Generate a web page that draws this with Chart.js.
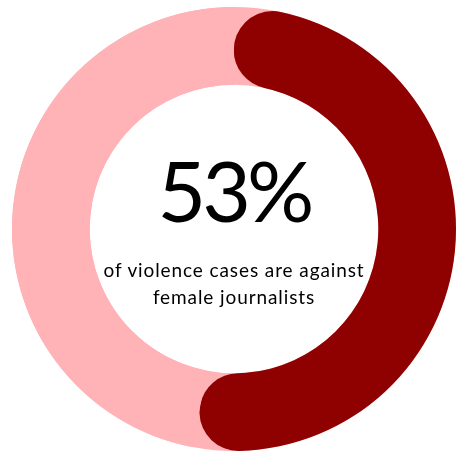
<!DOCTYPE html>
<html lang="en">
  <head>
    <meta charset="UTF-8" />
    <meta name="viewport" content="width=device-width, initial-scale=1.0" />
    <script src="https://cdn.jsdelivr.net/npm/chart.js@4.4.0/dist/chart.umd.min.js"></script>
    <title>violence cases against female journalists</title>
    <style>
      body {
        margin: 0;
        padding: 0;
        background: #fff;
      }

      .container {
        position: relative;
        width: 458px;
        height: 457px;
      }

      .big {
        position: absolute;
        left: 34px;
        top: 140px;
        width: 400px;
        text-align: center;
        font-family: Lato, sans-serif;
        font-weight: 400;
        font-size: 84px;
        letter-spacing: -4px;
        line-height: 100px;
        color: #000;
      }

      .sub {
        position: absolute;
        left: 34px;
        top: 256px;
        width: 400px;
        text-align: center;
        font-family: Lato, sans-serif;
        font-size: 19px;
        letter-spacing: 0.9px;
        line-height: 27px;
        color: #000;
      }
    </style>
  </head>
  <body>
    <div class="container">
      <canvas id="donut" width="458" height="457"></canvas>
      <div class="big">53%</div>
      <div class="sub">of violence cases are against<br />female journalists</div>
    </div>
    <script>
      const categories = ['Against female journalists', 'Other cases']
      const values = [53, 47]
      const colors = ['#8f0000', '#ffb3b6']

      // pink ring drawn under the arcs so the rounded ends sit on it
      const ringUnder = {
        id: 'ringUnder',
        beforeDatasetsDraw(chart) {
          const arc = chart.getDatasetMeta(0).data[0]
          if (!arc) return
          const ctx = chart.ctx
          ctx.save()
          ctx.beginPath()
          ctx.arc(arc.x, arc.y, arc.outerRadius, 0, Math.PI * 2)
          ctx.arc(arc.x, arc.y, arc.innerRadius, 0, Math.PI * 2, true)
          ctx.fillStyle = colors[1]
          ctx.fill()
          ctx.restore()
        },
      }

      new Chart(document.getElementById('donut').getContext('2d'), {
        type: 'doughnut',
        data: {
          labels: categories,
          datasets: [
            {
              data: values,
              backgroundColor: colors,
              borderWidth: 0,
              borderRadius: [40, 0],
            },
          ],
        },
        options: {
          responsive: false,
          animation: false,
          cutout: '65%',
          layout: {
            padding: { left: 12, right: 2, top: 7, bottom: 6 },
          },
          plugins: {
            legend: { display: false },
            tooltip: { enabled: false },
          },
        },
        plugins: [ringUnder],
      })
    </script>
  </body>
</html>
